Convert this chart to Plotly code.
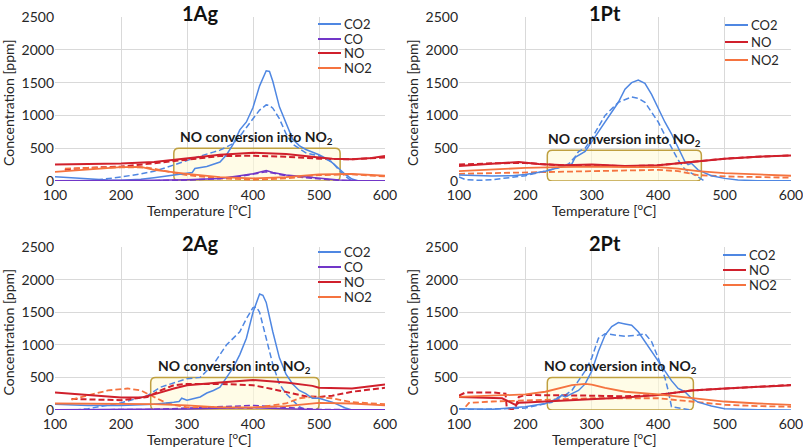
import plotly.graph_objects as go

# ---------------- DATA ----------------
panel_titles = ["1Ag", "1Pt", "2Ag", "2Pt"]
box_text = "NO conversion into NO<sub>2</sub>"
x_ticks = [100, 200, 300, 400, 500, 600]
y_ticks = [0, 500, 1000, 1500, 2000, 2500]

# conversion boxes (temperature start/end, ppm top)
box_T0 = [280, 233, 245, 233]
box_T1 = [532, 465, 500, 453]
box_top = [500, 470, 500, 500]

# ---- 1Ag ----
T_1Ag_CO2 = [100,120,150,180,200,230,250,280,300,308,312,330,350,360,370,380,390,400,410,420,425,430,440,450,460,470,480,500,510,520,530,540,550,560,600]
CO2_1Ag = [65,50,30,15,10,25,50,90,120,130,190,220,290,400,560,780,900,1120,1450,1680,1670,1520,1130,870,640,540,480,400,350,280,190,100,30,0,0]
T_1Ag_CO2d = [150,180,200,230,250,270,290,300,320,340,350,360,370,380,390,400,410,420,425,430,440,450,460,480,500,520,530,540,550]
CO2d_1Ag = [0,30,60,110,150,210,280,320,380,440,470,520,570,680,820,950,1080,1160,1150,1110,950,720,560,430,380,290,170,70,0]
T_1Ag_CO = [100,200,250,300,350,380,400,420,430,450,480,500,530,560,600]
CO_1Ag = [5,5,10,20,40,80,110,160,130,90,60,40,15,5,5]
COd_1Ag = [0,0,5,15,35,70,100,140,120,80,50,30,10,0,0]
T_1Ag_NO = [100,150,200,250,300,350,400,450,500,520,550,580,600]
NO_1Ag = [250,255,265,290,350,400,430,410,360,340,330,350,380]
T_1Ag_NOd = [115,118,150,200,250,300,350,400,450,500,550,600]
NOd_1Ag = [170,180,200,220,270,330,380,385,370,340,330,360]
T_1Ag_NO2 = [100,150,200,230,250,300,350,400,450,500,550,600]
NO2_1Ag = [140,180,210,215,170,110,60,40,60,100,110,80]
T_1Ag_NO2d = [115,150,200,240,260,300,350,400,450,500,550,600]
NO2d_1Ag = [190,200,210,205,170,90,40,20,40,90,100,70]

# ---- 1Pt ----
T_1Pt_CO2 = [100,130,150,180,200,230,250,270,275,285,290,300,320,340,350,360,370,380,390,400,410,420,430,440,445,450,460,480,500,520,550,600]
CO2_1Pt = [90,80,75,80,100,150,200,260,360,420,450,600,900,1200,1400,1500,1540,1490,1320,1110,900,720,500,300,250,270,170,80,40,15,5,5]
T_1Pt_CO2d = [100,110,130,150,200,250,265,275,280,290,300,320,340,360,370,380,390,400,410,420,430,440,450,460,470]
CO2d_1Pt = [60,20,10,20,80,200,260,370,450,500,650,1000,1200,1280,1260,1200,1050,900,700,500,320,180,120,50,0]
T_1Pt_NO = [100,150,190,220,260,300,350,400,440,460,500,550,600]
NO_1Pt = [230,260,290,260,240,250,230,240,280,310,340,370,390]
T_1Pt_NOd = [100,150,200,250,300,350,400,450,500,550,600]
NOd_1Pt = [250,270,275,240,240,225,240,290,340,370,390]
T_1Pt_NO2 = [100,150,200,250,300,350,400,430,460,500,550,600]
NO2_1Pt = [150,180,200,210,220,210,210,190,150,120,100,80]
NO2d_1Pt = [110,120,130,140,160,170,170,150,90,70,60,50]

# ---- 2Ag ----
T_2Ag_CO2 = [100,125,150,200,250,280,288,292,300,320,330,340,350,360,370,380,390,400,410,415,420,430,440,450,460,470,480,490,500,520,540,550,600]
CO2_2Ag = [90,80,70,70,90,120,130,180,150,200,260,300,350,500,650,850,1100,1500,1780,1760,1650,1200,800,550,400,300,250,180,180,120,30,0,0]
T_2Ag_CO2d = [130,150,200,240,260,280,300,320,340,360,370,380,390,400,405,410,420,430,440,450,460,470,480]
CO2d_2Ag = [0,20,110,220,350,420,480,500,700,1000,1100,1200,1400,1570,1580,1500,1100,700,400,250,150,50,0]
T_2Ag_CO = [100,250,300,350,400,450,500,600]
CO_2Ag = [5,5,15,25,35,20,5,5]
COd_2Ag = [0,10,30,50,70,40,10,0]
T_2Ag_NO = [100,150,200,230,250,280,300,350,400,450,490,500,550,600]
NO_2Ag = [270,230,190,190,240,330,380,420,460,420,370,340,330,390]
T_2Ag_NOd = [125,150,200,240,260,280,300,350,400,430,460,480,500,520,550,600]
NOd_2Ag = [170,160,150,200,300,380,400,400,380,320,250,210,200,220,280,340]
T_2Ag_NO2 = [100,200,250,300,350,400,450,500,550,600]
NO2_2Ag = [100,100,90,70,40,40,60,110,100,70]
T_2Ag_NO2d = [125,150,180,210,230,250,270,300,350,400,450,470,490,520,550,600]
NO2d_2Ag = [160,220,300,330,300,200,100,40,30,30,100,180,200,180,120,90]

# ---- 2Pt ----
T_2Pt_CO2 = [100,150,200,230,250,255,260,270,280,290,300,310,320,330,340,350,360,370,380,390,400,410,420,430,440,450,460,480,500,550,600]
CO2_2Pt = [20,10,50,100,180,230,200,250,300,400,600,900,1150,1280,1340,1320,1300,1200,1050,900,750,600,450,330,280,180,120,60,20,5,0]
T_2Pt_CO2d = [100,200,240,250,260,270,280,290,300,310,320,340,350,370,380,390,400,410,415,420,440,450]
CO2d_2Pt = [0,30,120,200,230,300,450,600,800,1100,1170,1150,1130,1150,1170,1050,800,500,300,50,10,0]
T_2Pt_NO = [100,150,165,185,190,200,250,300,350,400,450,500,550,600]
NO_2Pt = [200,185,180,80,110,115,140,160,190,230,300,330,360,380]
T_2Pt_NOd = [100,110,150,170,172,180,185,190,200,250,300,350,400,450,500,550,600]
NOd_2Pt = [220,270,270,250,30,10,30,200,230,230,220,210,230,300,330,360,385]
T_2Pt_NO2 = [100,150,200,230,250,270,290,300,320,350,400,450,500,550,600]
NO2_2Pt = [200,220,240,280,330,380,400,390,340,280,240,190,130,100,80]
T_2Pt_NO2d = [110,115,150,200,250,300,350,400,450,500,550,600]
NO2d_2Pt = [50,110,130,150,160,180,180,180,130,80,60,50]

# ---------------- STYLE ----------------
W, H = 803, 448
FONT = "Lato, 'Open Sans', sans-serif"
COLORS = {"CO2": "#4F87E2", "CO": "#7136C8", "NO": "#D0202C", "NO2": "#F5733F"}
WIDTHS = {"CO2": 1.5, "CO": 1.5, "NO": 2.0, "NO2": 1.8}
DASH = "6px,3px"

# plot areas in pixels: (left, right, top, bottom)
areas = [(55, 385, 17, 181), (459, 791, 17, 181), (55, 385, 247, 410), (459, 791, 247, 410)]
legend_px = [
    (318, [24, 39, 53, 68]),
    (725, [25, 42, 60]),
    (318, [252, 267, 282, 297]),
    (723, [255, 270, 285]),
]

panels = [
    [("CO2", T_1Ag_CO2, CO2_1Ag, T_1Ag_CO2d, CO2d_1Ag),
     ("CO", T_1Ag_CO, CO_1Ag, T_1Ag_CO, COd_1Ag),
     ("NO", T_1Ag_NO, NO_1Ag, T_1Ag_NOd, NOd_1Ag),
     ("NO2", T_1Ag_NO2, NO2_1Ag, T_1Ag_NO2d, NO2d_1Ag)],
    [("CO2", T_1Pt_CO2, CO2_1Pt, T_1Pt_CO2d, CO2d_1Pt),
     ("NO", T_1Pt_NO, NO_1Pt, T_1Pt_NOd, NOd_1Pt),
     ("NO2", T_1Pt_NO2, NO2_1Pt, T_1Pt_NO2, NO2d_1Pt)],
    [("CO2", T_2Ag_CO2, CO2_2Ag, T_2Ag_CO2d, CO2d_2Ag),
     ("CO", T_2Ag_CO, CO_2Ag, T_2Ag_CO, COd_2Ag),
     ("NO", T_2Ag_NO, NO_2Ag, T_2Ag_NOd, NOd_2Ag),
     ("NO2", T_2Ag_NO2, NO2_2Ag, T_2Ag_NO2d, NO2d_2Ag)],
    [("CO2", T_2Pt_CO2, CO2_2Pt, T_2Pt_CO2d, CO2d_2Pt),
     ("NO", T_2Pt_NO, NO_2Pt, T_2Pt_NOd, NOd_2Pt),
     ("NO2", T_2Pt_NO2, NO2_2Pt, T_2Pt_NO2d, NO2d_2Pt)],
]


def px(x):
    return x / W


def py(y):
    return 1 - y / H


fig = go.Figure()
shapes, annotations = [], []
layout = {}

for i, (area, series) in enumerate(zip(areas, panels)):
    n = "" if i == 0 else str(i + 1)
    xa, ya = "x" + n, "y" + n
    l, r, t, b = area
    layout["xaxis" + n] = dict(
        domain=[px(l), px(r)], range=[100, 600], anchor=ya, automargin=False,
        tickvals=x_ticks, showgrid=True, gridcolor="#D9D9D9", gridwidth=1,
        zeroline=False, showline=False, ticks="", ticklabeloverflow="allow",
        ticklabelstandoff=4,
        tickfont=dict(family=FONT, size=14, color="#262626"),
        fixedrange=True,
    )
    layout["yaxis" + n] = dict(
        domain=[py(b), py(t)], range=[0, 2500], anchor=xa, automargin=False,
        tickvals=y_ticks, showgrid=True, gridcolor="#D9D9D9", gridwidth=1,
        zeroline=False, showline=False, ticks="", ticklabeloverflow="allow",
        tickfont=dict(family=FONT, size=14, color="#262626"),
        fixedrange=True,
    )
    # axis titles
    annotations.append(dict(x=px((l + r) / 2 - 21), y=py(b + 28), xref="paper", yref="paper",
                            text="Temperature [<sup>o</sup>C]", showarrow=False,
                            xanchor="center", yanchor="middle",
                            font=dict(family=FONT, size=14, color="#262626")))
    annotations.append(dict(x=px(l - 47), y=py((t + b) / 2 + 4), xref="paper", yref="paper",
                            text="Concentration [ppm]", showarrow=False, textangle=-90,
                            xanchor="center", yanchor="middle",
                            font=dict(family=FONT, size=14, color="#262626")))
    # data traces: dashed first, solid on top
    for name, Ts, vs, Td, vd in series:
        fig.add_trace(go.Scatter(x=Td, y=vd, mode="lines", xaxis=xa, yaxis=ya,
                                 line=dict(color=COLORS[name], width=WIDTHS[name], dash=DASH),
                                 showlegend=False, hoverinfo="skip"))
    for name, Ts, vs, Td, vd in series:
        fig.add_trace(go.Scatter(x=Ts, y=vs, mode="lines", xaxis=xa, yaxis=ya, name=name,
                                 line=dict(color=COLORS[name], width=WIDTHS[name]),
                                 showlegend=False))
    # conversion box (rounded)
    sx = (r - l) / 500.0
    sy = (b - t) / 2500.0
    rx, ry = 5 / sx, 5 / sy
    x0, x1, y0, y1 = box_T0[i], box_T1[i], 0, box_top[i]
    path = (f"M {x0+rx},{y0} L {x1-rx},{y0} Q {x1},{y0} {x1},{y0+ry} "
            f"L {x1},{y1-ry} Q {x1},{y1} {x1-rx},{y1} L {x0+rx},{y1} "
            f"Q {x0},{y1} {x0},{y1-ry} L {x0},{y0+ry} Q {x0},{y0} {x0+rx},{y0} Z")
    shapes.append(dict(type="path", path=path, xref=xa, yref=ya, layer="between",
                       fillcolor="rgba(255,250,215,0.6)",
                       line=dict(color="#BFA040", width=1.5)))
    annotations.append(dict(x=(x0 + x1) / 2, y=box_top[i] + 160, xref=xa, yref=ya,
                            text="<b>" + box_text + "</b>", showarrow=False,
                            xanchor="center",
                            font=dict(family=FONT, size=14, color="#1a1a1a")))
    # panel title
    annotations.append(dict(x=px(l + (r - l) * 0.44), y=py(t - 4), xref="paper", yref="paper",
                            text="<b>" + panel_titles[i] + "</b>", showarrow=False,
                            xanchor="center", yanchor="middle",
                            font=dict(family=FONT, size=20, color="#111")))
    # manual legend
    lx, rows = legend_px[i]
    for (name, *_), ry_ in zip(series, rows):
        shapes.append(dict(type="line", xref="paper", yref="paper",
                           x0=px(lx), x1=px(lx + 23), y0=py(ry_), y1=py(ry_),
                           line=dict(color=COLORS[name], width=2)))
        annotations.append(dict(x=px(lx + 25), y=py(ry_), xref="paper", yref="paper",
                                text=name, showarrow=False, xanchor="left", yanchor="middle",
                                borderpad=0,
                                font=dict(family=FONT, size=13, color="#262626")))

fig.update_layout(
    width=W, height=H, margin=dict(l=0, r=0, t=0, b=0, autoexpand=False),
    paper_bgcolor="white", plot_bgcolor="white",
    showlegend=False, shapes=shapes, annotations=annotations,
    font=dict(family=FONT), **layout,
)

fig.write_html("out.html", config={"displayModeBar": False},
               post_script="document.body.style.margin='0';document.body.style.overflow='hidden';")
